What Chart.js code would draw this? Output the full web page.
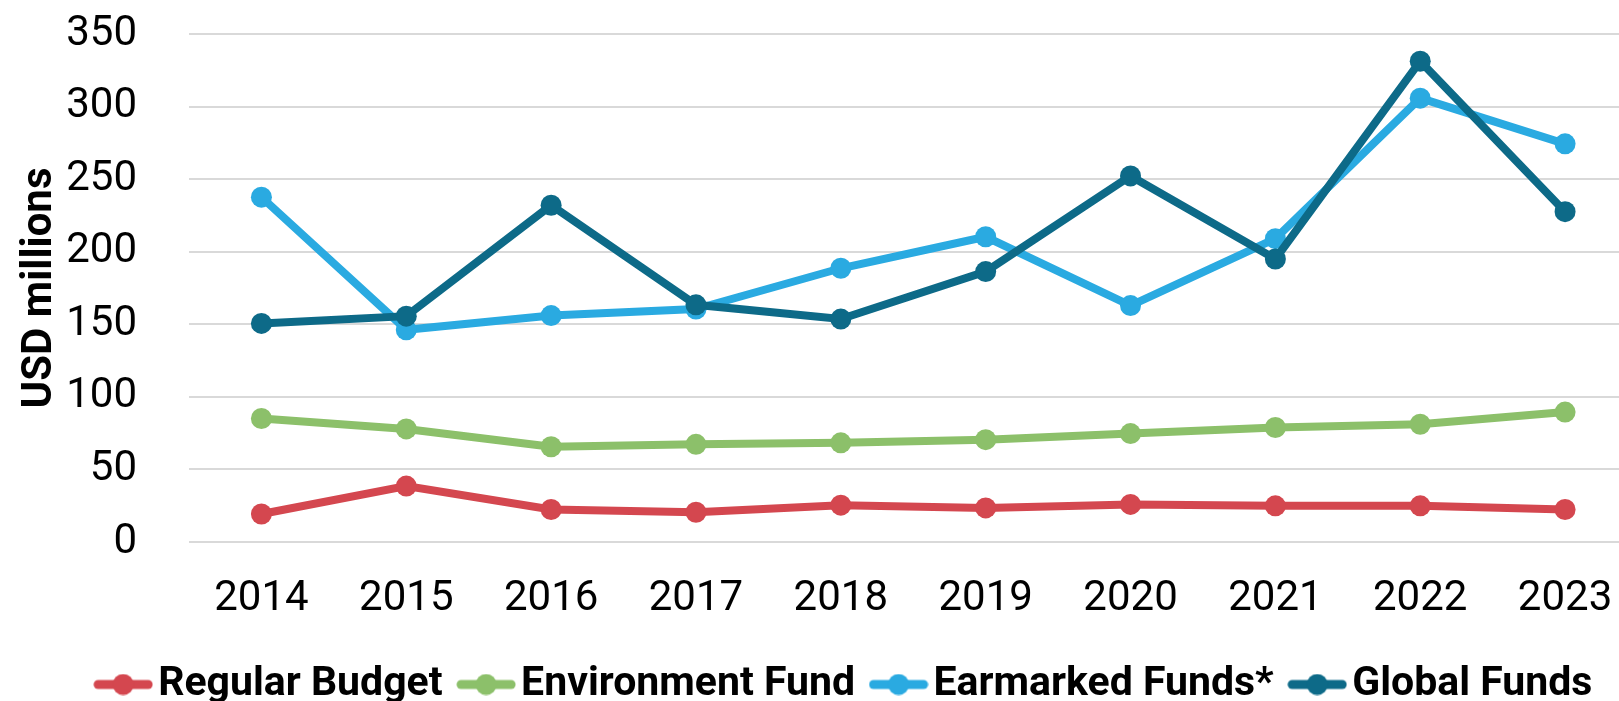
<!DOCTYPE html>
<html>
<head>
<meta charset="utf-8">
<script src="https://cdn.jsdelivr.net/npm/chart.js@4/dist/chart.umd.min.js"></script>
<style>
  html, body { margin: 0; padding: 0; background: #fff; overflow: hidden; }
  #wrap { width: 1649px; height: 701px; }
</style>
</head>
<body>
<div id="wrap"><canvas id="myChart"></canvas></div>
<script>
const years = ['2014', '2015', '2016', '2017', '2018', '2019', '2020', '2021', '2022', '2023'];
const regularBudget = [19.3, 38.5, 22.4, 20.5, 25.4, 23.5, 25.9, 24.9, 24.9, 22.4];
const environmentFund = [85.1, 77.9, 65.6, 67.3, 68.3, 70.5, 74.7, 78.9, 81.1, 89.5];
const earmarkedFunds = [237.6, 146.2, 156, 160.5, 188.6, 210.3, 162.9, 209, 305.8, 274.3];
const globalFunds = [150.6, 155.6, 232, 163.4, 153.6, 186.3, 252.2, 195, 331.3, 227.6];
const yTicks = [0, 50, 100, 150, 200, 250, 300, 350];

const colors = ['#D4474F', '#8CC06A', '#2AAAE1', '#0D6A88'];

// legend marker: short thick line with a dot in the middle
function marker(color) {
  const c = document.createElement('canvas');
  c.width = 60; c.height = 22;
  const g = c.getContext('2d');
  g.strokeStyle = color;
  g.lineWidth = 9;
  g.lineCap = 'round';
  g.beginPath(); g.moveTo(5, 11); g.lineTo(55, 11); g.stroke();
  g.fillStyle = color;
  g.beginPath(); g.arc(30, 11, 10.5, 0, Math.PI * 2); g.fill();
  return c;
}

function series(label, data, color, order) {
  return {
    label: label,
    data: data,
    borderColor: color,
    backgroundColor: color,
    borderWidth: 8,
    pointRadius: 10.5,
    pointHoverRadius: 11.5,
    pointBorderWidth: 0,
    pointBackgroundColor: color,
    tension: 0,
    order: order
  };
}

// nudge the legend so it sits where the original one is
const placeLegend = {
  id: 'placeLegend',
  afterLayout(chart) {
    chart.legend.left += 52;
    chart.legend.top += 14;
  }
};

const ctx = document.getElementById('myChart').getContext('2d');
const myChart = new Chart(ctx, {
  type: 'line',
  data: {
    labels: years,
    datasets: [
      series('Regular Budget', regularBudget, colors[0], 3),
      series('Environment Fund', environmentFund, colors[1], 2),
      series('Earmarked Funds*', earmarkedFunds, colors[2], 1),
      series('Global Funds', globalFunds, colors[3], 0)
    ]
  },
  options: {
    responsive: true,
    maintainAspectRatio: false,
    animation: false,
    layout: { padding: { top: 34, left: 0, right: 0, bottom: 0 } },
    plugins: {
      legend: {
        position: 'bottom',
        labels: {
          color: '#000',
          font: { family: 'Roboto', size: 41, weight: 'bold' },
          usePointStyle: true,
          pointStyleWidth: 29,
          padding: 29,
          generateLabels(chart) {
            return chart.data.datasets.map((ds, i) => ({
              text: ds.label,
              fillStyle: ds.borderColor,
              strokeStyle: ds.borderColor,
              lineWidth: 0,
              pointStyle: marker(ds.borderColor),
              hidden: !chart.isDatasetVisible(i),
              datasetIndex: i,
              fontColor: '#000'
            }));
          }
        }
      }
    },
    scales: {
      x: {
        offset: true,
        grid: { display: false, drawTicks: false },
        border: { display: false },
        ticks: {
          color: '#000',
          font: { family: 'Roboto', size: 42 },
          padding: 32,
          maxRotation: 0
        },
        afterFit(scale) {
          scale.height = 79;
          scale.paddingLeft = 0;
          scale.paddingRight = 0;
        }
      },
      y: {
        min: 0,
        max: 350,
        afterBuildTicks(axis) {
          axis.ticks = yTicks.map(v => ({ value: v }));
        },
        grid: { color: '#D9D9D9', lineWidth: 2, drawTicks: false },
        border: { display: false },
        ticks: {
          color: '#000',
          font: { family: 'Roboto', size: 42 },
          padding: 52
        },
        title: {
          display: true,
          text: 'USD millions',
          color: '#000',
          font: { family: 'Roboto', size: 42, weight: 'bold' },
          padding: { top: 15, bottom: 0 }
        },
        afterFit(scale) {
          scale.width = 189;
          scale.paddingTop = 0;
          scale.paddingBottom = 0;
        }
      }
    }
  },
  plugins: [placeLegend]
});
</script>
</body>
</html>
